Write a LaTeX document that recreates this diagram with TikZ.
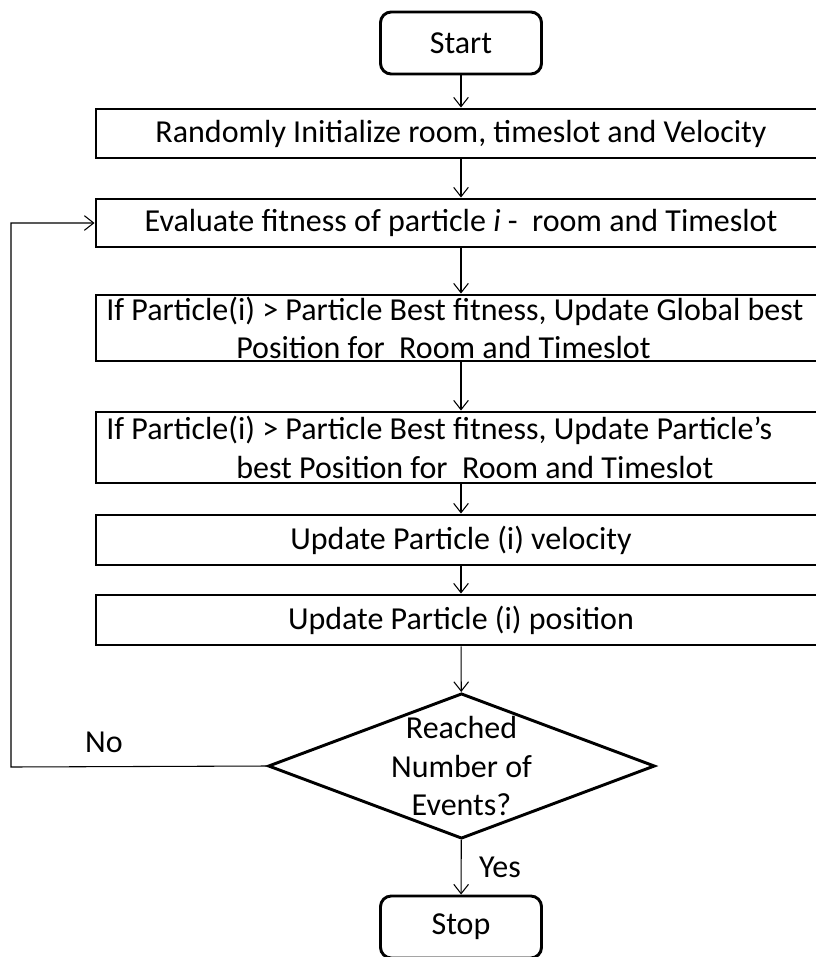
\documentclass[tikz,border=0pt]{standalone}
\usepackage{fontspec}
\setmainfont{Carlito}
\usetikzlibrary{shapes.geometric, arrows.meta, positioning}

\begin{document}
\begin{tikzpicture}[x=0.75pt, y=-0.75pt,
  font=\fontsize{24}{29}\selectfont,
  term/.style={draw, line width=2.2pt, rounded corners=8pt,
    minimum width=120.75pt, minimum height=46.5pt, inner sep=0pt},
  proc/.style={draw, line width=2.2pt, minimum width=547.5pt,
    inner sep=0pt, align=center},
  proc2/.style={proc, align=flush left, text width=532pt},
  dec/.style={diamond, draw, line width=2.2pt, aspect=2.67,
    minimum width=290pt, minimum height=109pt, inner sep=-5pt, align=center},
  line/.style={line width=0.8pt, -{Straight Barb[length=7pt, width=11pt]}}
]
\useasboundingbox (0,0) rectangle (816,957);
\node[term] (start) at (461,43) {Start};
\node[proc, minimum height=36.75pt] (init) at (461,133.5) {Randomly Initialize room, timeslot and Velocity};
\node[proc, minimum height=36pt] (eval) at (461,223) {Evaluate fitness of particle \textit{i} -~ room and Timeslot};
\node[proc2, minimum height=49.5pt, inner ysep=-2pt] (gbest) at (461,328) {If Particle(i) > Particle Best fitness, Update Global best\\\hspace*{97.5pt}Position for~ Room and Timeslot};
\node[proc2, minimum height=53.25pt] (pbest) at (461,447.5) {If Particle(i) > Particle Best fitness, Update Particle’s\\\hspace*{97.5pt}best Position for~ Room and Timeslot};
\node[proc, minimum height=37.5pt] (vel) at (461,540) {Update Particle (i) velocity};
\node[proc, minimum height=37.5pt] (pos) at (461,620) {Update Particle (i) position};
\node[dec] (done) at (461.5,766) {Reached\\Number of\\Events?};
\node[term] (stop) at (461,927) {Stop};
\node (no) at (104,742) {No};
\node (yes) at (500,867) {Yes};
\coordinate (back) at (11,767);
\draw[line] (start) -- (init);
\draw[line] (init) -- (eval);
\draw[line] (eval) -- (gbest);
\draw[line] (gbest) -- (pbest);
\draw[line] (pbest) -- (vel);
\draw[line] (vel) -- (pos);
\draw[line] (pos) -- (done);
\draw[line] (done) -- (stop);
\draw[line] (done.west) -- (back) |- (eval.west);
\end{tikzpicture}
\end{document}
